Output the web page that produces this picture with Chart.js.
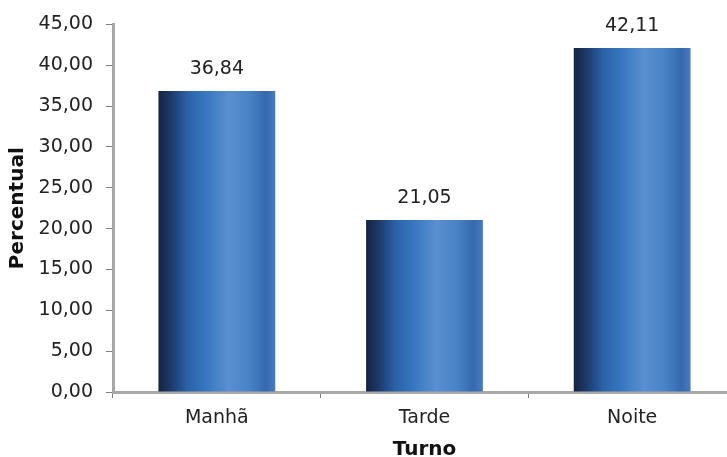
<!DOCTYPE html>
<html><head><meta charset="utf-8">
<script src="https://cdn.jsdelivr.net/npm/chart.js@4.4.0/dist/chart.umd.min.js"></script>
<style>
html,body{margin:0;padding:0;overflow:hidden;background:#fff;width:727px;height:457px;}
#wrap{position:relative;width:736px;height:462px;}
</style></head>
<body><div id="wrap"><canvas id="c"></canvas></div>
<script>
const categories = ['Manhã', 'Tarde', 'Noite'];
const values = [36.84, 21.05, 42.11];
const yTitle = 'Percentual';
const xTitle = 'Turno';
const fmt = v => Number(v).toFixed(2).replace('.', ',');
const FONT = "'DejaVu Sans', Verdana, sans-serif";

function barGradient(ctx) {
  const chart = ctx.chart;
  const xs = chart.scales && chart.scales.x;
  if (!xs || xs.right === undefined || !isFinite(xs.right)) return '#3370b8';
  const i = ctx.dataIndex;
  const cw = (xs.right - xs.left) / categories.length;
  const cx = xs.getPixelForValue(i);
  const w = cw * 0.5625;
  const x0 = cx - w / 2, x1 = cx + w / 2;
  if (!isFinite(x0)) return '#3370b8';
  const g = chart.ctx.createLinearGradient(x0, 0, x1, 0);
  g.addColorStop(0, '#142440');
  g.addColorStop(0.1, '#1d3766');
  g.addColorStop(0.25, '#2a62a8');
  g.addColorStop(0.4, '#3775bf');
  g.addColorStop(0.6, '#5a8fd0');
  g.addColorStop(0.78, '#4a82c6');
  g.addColorStop(0.92, '#3569ad');
  g.addColorStop(1, '#4a7cbc');
  return g;
}

const labelPlugin = {
  id: 'vals',
  afterDatasetsDraw(chart) {
    const c = chart.ctx;
    const meta = chart.getDatasetMeta(0);
    c.save();
    c.font = '19px ' + FONT;
    c.fillStyle = '#222';
    c.textAlign = 'center';
    c.textBaseline = 'middle';
    meta.data.forEach((el, i) => {
      c.fillText(fmt(values[i]), el.x, el.y - 22);
    });
    c.restore();
  }
};

new Chart(document.getElementById('c'), {
  type: 'bar',
  data: {
    labels: categories,
    datasets: [{
      data: values,
      backgroundColor: barGradient,
      borderWidth: 0,
      categoryPercentage: 1,
      barPercentage: 0.5625
    }]
  },
  options: {
    responsive: true,
    maintainAspectRatio: false,
    animation: false,
    layout: { padding: { top: 24, right: 0, left: 0, bottom: 0 } },
    plugins: { legend: { display: false }, tooltip: { enabled: false } },
    scales: {
      y: {
        min: 0, max: 45,
        ticks: { stepSize: 5, callback: v => fmt(v), color: '#222', font: { family: FONT, size: 19 }, padding: 13 },
        grid: { drawOnChartArea: false, drawTicks: true, tickLength: 7, color: '#7f7f7f', lineWidth: 1 },
        border: { display: true, color: '#a8a8a8', width: 3 },
        title: { display: true, text: yTitle, color: '#111', font: { family: FONT, size: 20, weight: 'bold' }, padding: { top: 6, bottom: 0 } },
        afterFit: s => { s.width = 113; }
      },
      x: {
        ticks: { color: '#222', font: { family: FONT, size: 19 }, padding: 9 },
        grid: { drawOnChartArea: false, drawTicks: true, tickLength: 6, color: '#7f7f7f', lineWidth: 1, offset: true },
        border: { display: true, color: '#a8a8a8', width: 3 },
        title: { display: true, text: xTitle, color: '#111', font: { family: FONT, size: 20, weight: 'bold' }, padding: { top: 0, bottom: 0 } },
        afterFit: s => { s.height = 70; }
      }
    }
  },
  plugins: [labelPlugin]
});
</script></body></html>
